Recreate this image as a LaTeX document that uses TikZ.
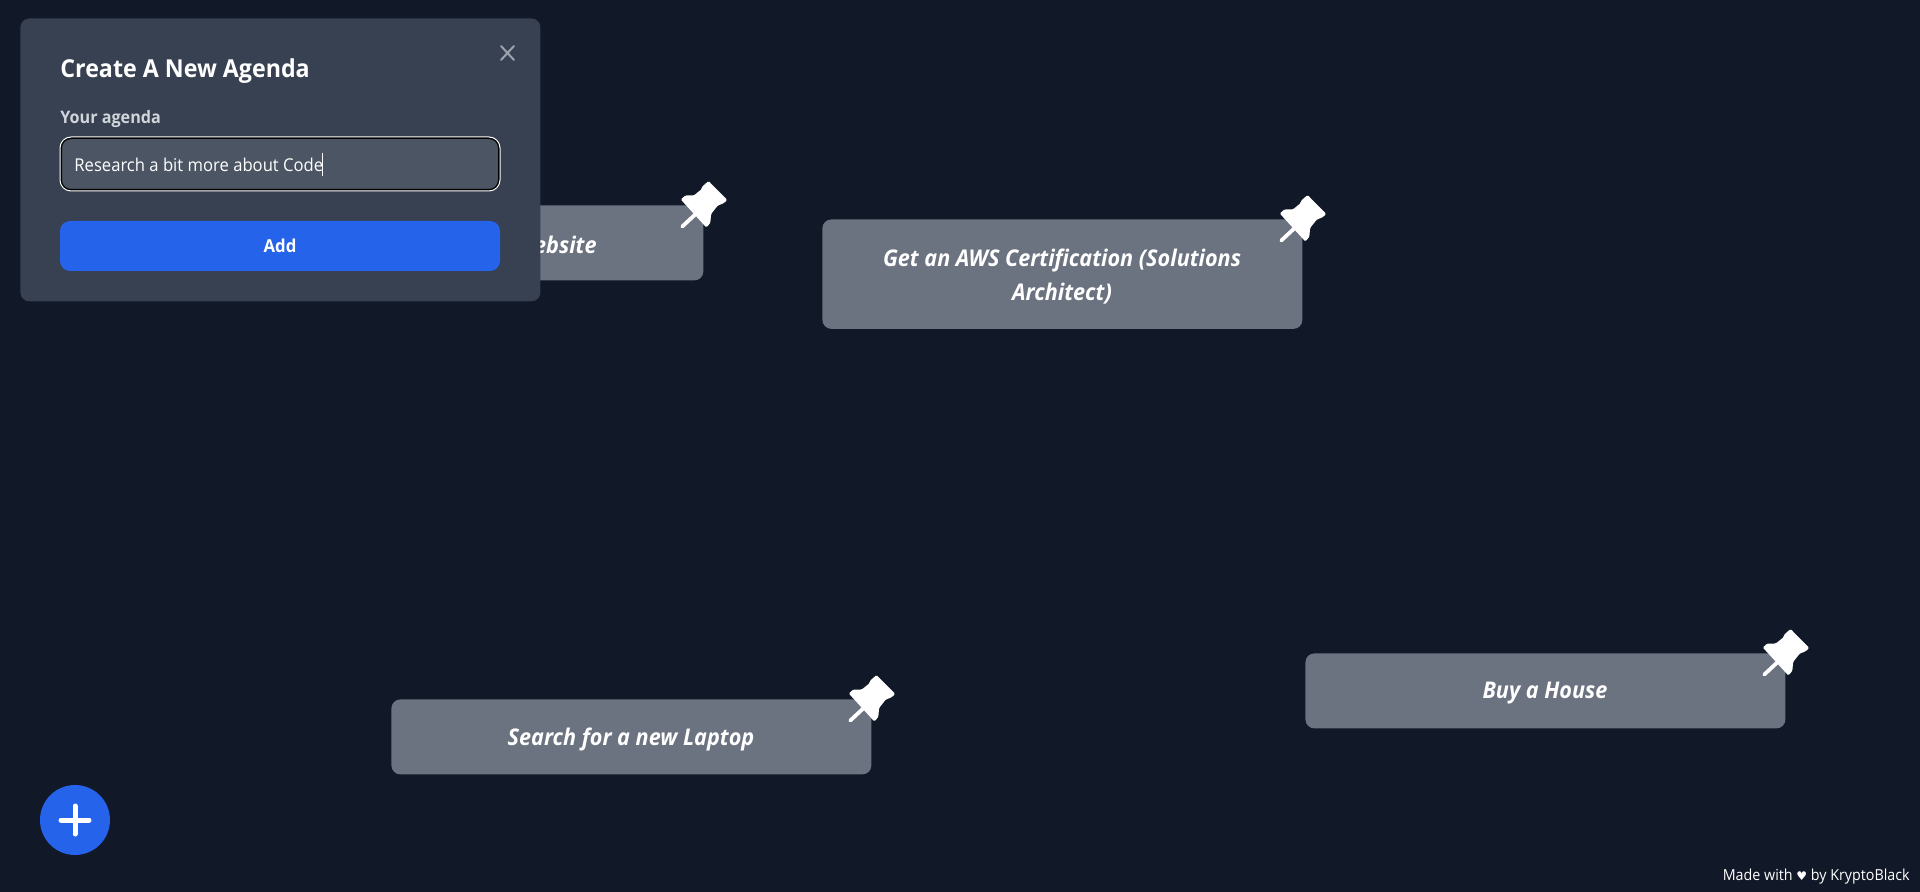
\documentclass[tikz,border=0pt]{standalone}
\usepackage{fontspec}
\setmainfont{Open Sans}[FakeStretch=0.94]
\newfontfamily\heartfont{DejaVu Sans}
\definecolor{pagebg}{HTML}{111827}
\definecolor{cardgray}{HTML}{6B7280}
\definecolor{panelgray}{HTML}{374151}
\definecolor{inputgray}{HTML}{4B5563}
\definecolor{blueaction}{HTML}{2563EB}
\definecolor{closegray}{HTML}{9CA3AF}
\definecolor{labelgray}{HTML}{D1D5DB}
\tikzset{
  x=0.5pt,y=-0.5pt,
  card/.style={fill=cardgray,rounded corners=4.5pt,minimum width=240pt,inner sep=0pt,anchor=north west},
  cardtext/.style={text=white,font=\fontsize{11.5}{17}\selectfont\bfseries\itshape,align=center,inner sep=0pt},
  pushpin/.pic={
    \fill[white,rounded corners=0.6pt] (4.7,-24) -- (23.5,-5) -- (19.5,-1.5) -- (14,0.5) -- (7.3,9) -- (6.5,18) -- (2.5,22.5) -- (-23,-5.5) -- (-18.5,-9.5) -- (-10,-9.5) -- (-2,-16) -- (-2,-18) -- cycle;
    \draw[white,line width=1.9pt,line cap=round] (-7,8) -- (-21.5,21.5);
  }
}
\begin{document}
\begin{tikzpicture}
\useasboundingbox (0,0) rectangle (1920,892);
\fill[pagebg] (0,0) rectangle (1920,892);

% cards
\node[card,minimum height=37.5pt] (c1) at (223,205) {};
\node[cardtext,anchor=east] (c1t) at (597,245) {ebsite};
\pic at (c1.north east) {pushpin};

\node[card,minimum height=54.75pt] (c2) at (822,219) {};
\node[cardtext] (c2t) at (1062,277) {Get an AWS Certification (Solutions\\Architect)};
\pic at (c2.north east) {pushpin};

\node[card,minimum height=37.5pt] (c3) at (391,699) {};
\node[cardtext] (c3t) at (631,739.5) {Search for a new Laptop};
\pic at (c3.north east) {pushpin};

\node[card,minimum height=37.5pt] (c4) at (1305,653) {};
\node[cardtext] (c4t) at (1545,693.5) {Buy a House};
\pic at (c4.north east) {pushpin};

% panel
\node[fill=panelgray,rounded corners=4.5pt,minimum width=260pt,minimum height=141.5pt,inner sep=0pt,anchor=north west] (panel) at (20,18) {};
\node[anchor=west,text=white,inner sep=0pt,font=\fontsize{12.35}{14}\selectfont\bfseries] (title) at (60,71) {Create A New Agenda};
\draw[closegray,line width=1pt,line cap=round] (501,46) -- (514,60) (514,46) -- (501,60);
\node[anchor=west,text=labelgray,inner sep=0pt,font=\fontsize{8.6}{10}\selectfont\bfseries] (lab) at (60,119) {Your agenda};
\node[fill=inputgray,draw=black,line width=1pt,rounded corners=5pt,minimum width=219pt,minimum height=26pt,inner sep=0pt,anchor=center] (inp) at (280,164) {};
\draw[white,line width=0.5pt,rounded corners=5.5pt] (60,137) rectangle (500,191);
\node[anchor=west,text=white,inner sep=0pt,font=\fontsize{8.85}{10}\selectfont] (val) at (74,165) {Research a bit more about Code};
\draw[white,line width=0.5pt] (322.5,153) -- (322.5,176);
\node[fill=blueaction,rounded corners=5pt,minimum width=220pt,minimum height=25pt,inner sep=0pt,text=white,font=\fontsize{8.9}{10}\selectfont\bfseries] (add) at (280,246) {\raisebox{-1pt}{Add}};

% fab
\node[circle,fill=blueaction,minimum size=35pt,inner sep=0pt] (fab) at (75,820) {};
\draw[white,line width=2.5pt,line cap=round] (fab.center) +(-14,0) -- +(14,0) (fab.center) +(0,-14) -- +(0,14);

% footer
\node[anchor=east,text=white,inner sep=0pt,font=\fontsize{7.6}{9}\selectfont] (foot) at (1910,877) {Made with {\heartfont\fontsize{6}{9}\selectfont ♥} by KryptoBlack};
\end{tikzpicture}
\end{document}
